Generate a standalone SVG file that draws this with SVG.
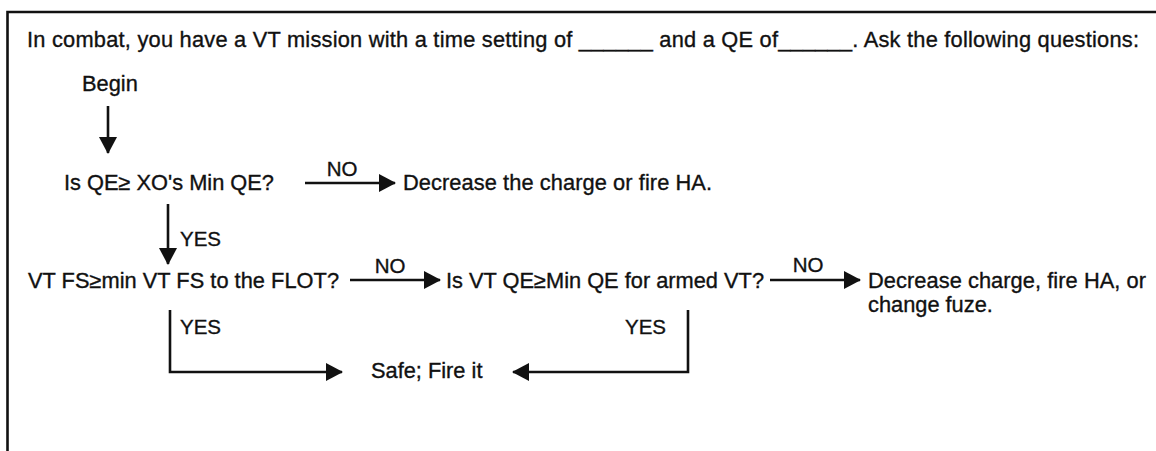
<svg xmlns="http://www.w3.org/2000/svg" width="1156" height="451" viewBox="0 0 1156 451">
<style>
text{font-family:"Liberation Sans",Arial,sans-serif;font-size:21.8px;fill:#111;stroke:#111;stroke-width:0.35}
.lbl{font-size:20.5px}
.ln{stroke:#111;stroke-width:2.6;fill:none}
</style>
<defs>
<marker id="ah" markerUnits="userSpaceOnUse" markerWidth="18" markerHeight="20" refX="16" refY="9" orient="auto">
<path d="M0,0 L17,9 L0,18 Z" fill="#111"/>
</marker>
</defs>
<rect width="1156" height="451" fill="#fff"/>
<g id="frame">
<path class="ln" d="M7.5,451 V12 H1156" stroke-width="2.8"/>
</g>
<g id="header"><text x="27" y="47" textLength="1112">In combat, you have a VT mission with a time setting of ______ and a QE of______. Ask the following questions:</text></g>
<g id="begin"><text x="82" y="91">Begin</text></g>
<g id="q1"><text x="64" y="190">Is QE≥ XO's Min QE?</text></g>
<g id="r1"><text x="403" y="190" textLength="309">Decrease the charge or fire HA.</text></g>
<g id="q2"><text x="28" y="288" textLength="311">VT FS≥min VT FS to the FLOT?</text></g>
<g id="q3"><text x="446" y="288" textLength="318">Is VT QE≥Min QE for armed VT?</text></g>
<g id="r2"><text x="868" y="288" textLength="278">Decrease charge, fire HA, or</text><text x="868" y="312">change fuze.</text></g>
<g id="safe"><text x="371" y="378">Safe; Fire it</text></g>
<g id="connectors">
<line class="ln" x1="108" y1="106" x2="108" y2="153" marker-end="url(#ah)"/>
<line class="ln" x1="305" y1="183" x2="395" y2="183" marker-end="url(#ah)"/>
<text class="lbl" x="342" y="176" text-anchor="middle">NO</text>
<line class="ln" x1="168" y1="204" x2="168" y2="264" marker-end="url(#ah)"/>
<text class="lbl" x="180" y="246">YES</text>
<line class="ln" x1="350" y1="280" x2="440" y2="280" marker-end="url(#ah)"/>
<text class="lbl" x="390" y="273" text-anchor="middle">NO</text>
<line class="ln" x1="770" y1="280" x2="860" y2="280" marker-end="url(#ah)"/>
<text class="lbl" x="808" y="272" text-anchor="middle">NO</text>
<polyline class="ln" points="170,310 170,372 342,372" marker-end="url(#ah)"/>
<text class="lbl" x="180" y="334">YES</text>
<polyline class="ln" points="688,310 688,372 513,372" marker-end="url(#ah)"/>
<text class="lbl" x="666" y="334" text-anchor="end">YES</text>
</g>
</svg>
